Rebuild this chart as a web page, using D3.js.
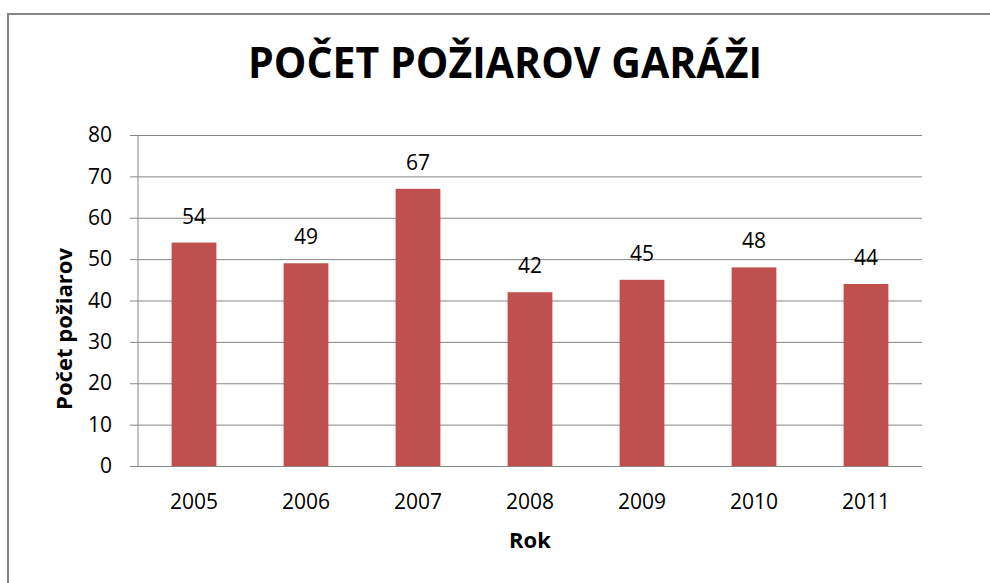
<!DOCTYPE html>
<html>
<head>
<meta charset="utf-8">
<script src="https://cdn.jsdelivr.net/npm/d3@7"></script>
<style>
  body { margin: 0; background: #fff; }
  svg { display: block; font-family: "Open Sans", sans-serif; }
</style>
</head>
<body>
<div id="chart"></div>
<script>
// Chart data
const years = ["2005", "2006", "2007", "2008", "2009", "2010", "2011"];
const fires = [54, 49, 67, 42, 45, 48, 44];
const yTicks = [0, 10, 20, 30, 40, 50, 60, 70, 80];

const titleText = "POČET POŽIAROV GARÁŽI";
const yTitle = "Počet požiarov";
const xTitle = "Rok";

const width = 990;
const height = 583;
const margin = { top: 135, right: 68, bottom: 117, left: 138 };

const svg = d3.select("#chart")
  .append("svg")
  .attr("width", width)
  .attr("height", height);

// outer frame (only left and top edges are visible)
svg.append("rect")
  .attr("x", 8)
  .attr("y", 14)
  .attr("width", width + 20)
  .attr("height", height + 20)
  .attr("fill", "none")
  .attr("stroke", "#868686")
  .attr("stroke-width", 2);

const x = d3.scaleBand()
  .domain(years)
  .range([margin.left, width - margin.right])
  .paddingInner(0.6)
  .paddingOuter(0.3);

const y = d3.scaleLinear()
  .domain([0, 80])
  .range([height - margin.bottom, margin.top]);

// gridlines + y ticks
svg.append("g")
  .attr("transform", "translate(" + margin.left + ",0)")
  .call(d3.axisLeft(y).tickValues(yTicks).tickSize(8).tickPadding(18))
  .call(g => g.select(".domain").remove())
  .call(g => g.selectAll(".tick line")
    .attr("x1", width - margin.right - margin.left)
    .attr("x2", -8)
    .attr("stroke", "#868686"))
  .call(g => g.selectAll(".tick text")
    .attr("font-size", 21)
    .attr("font-family", "'Open Sans', sans-serif")
    .attr("fill", "#000"));

// y axis line
svg.append("line")
  .attr("x1", margin.left)
  .attr("x2", margin.left)
  .attr("y1", y(80))
  .attr("y2", y(0))
  .attr("stroke", "#868686");

// bars
svg.selectAll(".bar")
  .data(fires)
  .enter().append("rect")
  .attr("class", "bar")
  .attr("x", (d, i) => x(years[i]))
  .attr("y", d => y(d))
  .attr("width", x.bandwidth())
  .attr("height", d => y(0) - y(d))
  .attr("fill", "#C0504D");

// value labels
svg.selectAll(".value")
  .data(fires)
  .enter().append("text")
  .attr("class", "value")
  .attr("x", (d, i) => x(years[i]) + x.bandwidth() / 2)
  .attr("y", d => y(d) - 19)
  .attr("text-anchor", "middle")
  .attr("font-size", 21)
  .text(d => d);

// x labels
svg.append("g")
  .attr("transform", "translate(0," + y(0) + ")")
  .call(d3.axisBottom(x).tickSize(0).tickPadding(0))
  .call(g => g.select(".domain").remove())
  .call(g => g.selectAll(".tick text")
    .attr("dy", null)
    .attr("y", 43)
    .attr("font-size", 21)
    .attr("font-family", "'Open Sans', sans-serif")
    .attr("fill", "#000"));

// title
svg.append("text")
  .attr("x", 505)
  .attr("y", 78)
  .attr("text-anchor", "middle")
  .attr("font-size", 43)
  .attr("font-weight", "bold")
  .attr("textLength", 514)
  .attr("lengthAdjust", "spacingAndGlyphs")
  .text(titleText);

// axis titles
svg.append("text")
  .attr("transform", "translate(72,329) rotate(-90)")
  .attr("text-anchor", "middle")
  .attr("font-size", 21)
  .attr("font-weight", "bold")
  .attr("textLength", 162)
  .attr("lengthAdjust", "spacingAndGlyphs")
  .text(yTitle);

svg.append("text")
  .attr("x", (margin.left + width - margin.right) / 2)
  .attr("y", 548)
  .attr("text-anchor", "middle")
  .attr("font-size", 22)
  .attr("font-weight", "bold")
  .text(xTitle);
</script>
</body>
</html>
